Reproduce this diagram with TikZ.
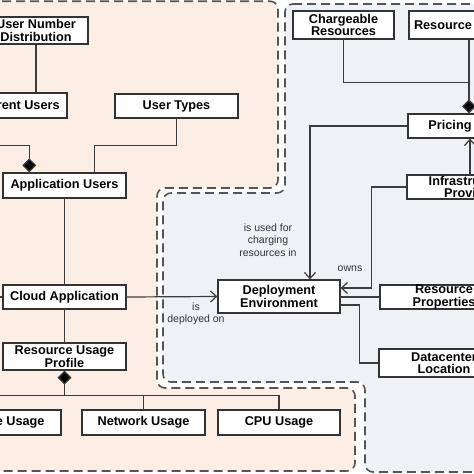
\documentclass[tikz,border=0pt]{standalone}
\usepackage{fontspec}
\setmainfont{Liberation Sans}
\usetikzlibrary{arrows.meta,calc}
\definecolor{peach}{HTML}{FCEEE4}
\definecolor{paleblue}{HTML}{EEF1F6}
\definecolor{dashc}{HTML}{555555}
\definecolor{linec}{HTML}{3C3C3C}
\definecolor{boxc}{HTML}{333333}
\definecolor{labc}{HTML}{333333}
\begin{document}
\begin{tikzpicture}[x=1pt,y=-1pt,
  box/.style={draw=boxc, line width=1.3pt, fill=white, inner sep=0pt, align=center,
    font=\bfseries\fontsize{12.7}{12.6}\selectfont, text=black},
  conn/.style={draw=linec, line width=1.2pt},
  barb/.style={conn, -{Straight Barb[length=6pt,width=11pt]}},
  diam/.style={conn, -{Diamond[length=14pt,width=14pt,fill=black]}},
  lbl/.style={font=\fontsize{10.5}{12.4}\selectfont, text=labc, align=center, inner sep=0pt},
  panel/.style={draw=dashc, line width=1.6pt, dash pattern=on 9pt off 5pt, rounded corners=8pt}
]
\useasboundingbox (0,0) rectangle (474,474);
\begin{scope}
\clip (0,0) rectangle (474,474);
% panels
\path[panel, fill=peach] (-20,1.2) -- (278,1.2) -- (278,188) -- (157,188) -- (157,388)
  -- (355,388) -- (355,471) -- (-20,471) -- cycle;
\path[panel, fill=paleblue] (285,4) -- (495,4) -- (495,472) -- (365,472) -- (365,382)
  -- (163,382) -- (163,193) -- (285,193) -- cycle;

% nodes
\node[box, minimum width=104pt, minimum height=27pt] (UND) at (36,30.5) {User Number\\Distribution};
\node[box, minimum width=122pt, minimum height=25pt] (CU) at (6,105.5) {Concurrent Users};
\node[box, minimum width=123pt, minimum height=24pt] (UT) at (176.5,106) {User Types};
\node[box, minimum width=123pt, minimum height=25pt] (AU) at (64.5,185.5) {Application Users};
\node[box, minimum width=123pt, minimum height=24pt] (CA) at (64.5,297) {Cloud Application};
\node[box, minimum width=123pt, minimum height=27pt] (RUP) at (64.5,356.5) {Resource Usage\\Profile};
\node[box, minimum width=122pt, minimum height=25pt] (SU) at (0,422.5) {Storage Usage};
\node[box, minimum width=123pt, minimum height=25pt] (NU) at (143.5,422.5) {Network Usage};
\node[box, minimum width=122pt, minimum height=25pt] (CPU) at (279,422.5) {CPU Usage};
\node[box, minimum width=101pt, minimum height=28pt] (CR) at (343.5,25) {Chargeable\\Resources};
\node[box, minimum width=120pt, minimum height=28pt, text width=110pt, align=left] (RS) at (469,25) {Resource};
\node[box, minimum width=84pt, minimum height=24pt] (PR) at (450,126) {Pricing};
\node[box, minimum width=126pt, minimum height=24pt] (IP) at (470,187) {Infrastructure\\Provider};
\node[box, minimum width=122pt, minimum height=33pt] (DE) at (279,296.5) {Deployment\\Environment};
\node[box, minimum width=128pt, minimum height=24pt] (RP) at (444,297) {Resource\\Properties};
\node[box, minimum width=130pt, minimum height=28pt] (DL) at (444,363) {Datacenter\\Location};

\coordinate (caL) at (-20,297);

% connectors
\draw[conn] (UND.south) -- (UND.south |- CU.north);
\draw[diam] ($(CU.south)+(-16,0)$) |- ($(AU.north west)+(27,-27)$) -- ($(AU.north west)+(27,0)$);
\draw[conn] (UT.south) |- ($(AU.north west)+(92,-27)$) -- ($(AU.north west)+(92,0)$);
\draw[conn] (AU.south) -- (CA.north);
\draw[conn] (caL) -- (CA.west);
\draw[barb] (CA.east) -- (DE.west);
\draw[conn] (CA.south) -- (RUP.north);
\draw[diam] (NU.north) |- ($(RUP.south)+(0,25)$) -- (RUP.south);
\draw[conn] (CPU.north) |- ($(RUP.south)+(0,25)$);
\draw[conn] ($(SU.north)+(-10,0)$) |- ($(RUP.south)+(0,25)$);

\draw[conn] (CR.south) |- ($(PR.north)+(19,-31)$);
\draw[diam] (RS.south) -- ($(PR.north)+(19,0)$);
\draw[barb] (IP.north) -- (IP.north |- PR.south);
\draw[barb] (PR.west) -| ($(DE.north)+(31,0)$);
\draw[barb] (IP.west) -| ($(DE.east)+(31,-8.5)$) -- ($(DE.east)+(0,-8.5)$);
\draw[conn] (RP.west) -- (RP.west -| DE.east);
\draw[conn] ($(DE.east)+(0,8.5)$) -| ($(DL.west)+(-19,0)$) -- (DL.west);

% labels
\node[lbl] (l1) at (196,314) {is\\deployed on};
\node[lbl] (l2) at (268,240) {is used for\\charging\\resources in};
\node[lbl] (l3) at (350,269) {owns};
\end{scope}
\end{tikzpicture}
\end{document}
